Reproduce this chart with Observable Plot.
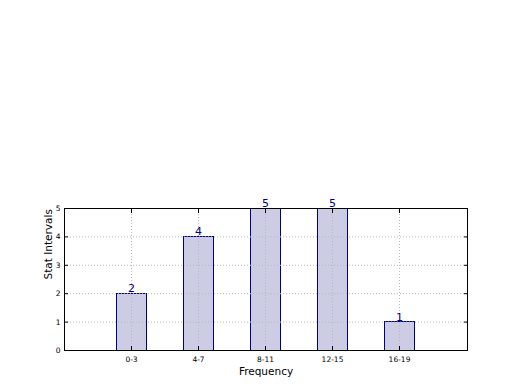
<!DOCTYPE html>
<html>
<head>
<meta charset="utf-8">
<script src="https://cdn.jsdelivr.net/npm/d3@7"></script>
<script src="https://cdn.jsdelivr.net/npm/@observablehq/plot@0.6"></script>
<style>
  html, body { margin: 0; padding: 0; background: #fff; }
  #chart svg { display: block; }
</style>
</head>
<body>
<div id="chart"></div>
<script>
const categories = ["0-3", "4-7", "8-11", "12-15", "16-19"];
const counts = [2, 4, 5, 5, 1];
const yTicks = [0, 1, 2, 3, 4, 5];

const data = categories.map((c, i) => ({cat: c, value: counts[i]}));

const chart = Plot.plot({
  width: 520,
  height: 390,
  marginLeft: 64,
  marginRight: 53,
  marginTop: 208,
  marginBottom: 40,
  style: {fontFamily: "DejaVu Sans, sans-serif", background: "#fff", overflow: "visible"},
  x: {type: "band", domain: categories, paddingInner: 0.55, paddingOuter: 0.775, align: 0.5},
  y: {domain: [0, 5]},
  marks: [
    Plot.barY(data, {x: "cat", y: "value", fill: "#cccce5", stroke: "#000080", strokeWidth: 1, shapeRendering: "crispEdges"}),
    Plot.gridX(categories, {stroke: "#b8b8b8", strokeOpacity: 1, strokeDasharray: "1,2", strokeWidth: 1}),
    Plot.gridY(yTicks, {stroke: "#b8b8b8", strokeOpacity: 1, strokeDasharray: "1,2", strokeWidth: 1}),
    Plot.frame({stroke: "black", strokeWidth: 1, shapeRendering: "crispEdges"}),
    Plot.axisX(categories, {tickSize: -4, tickPadding: 10, fontSize: 7.5, label: null, stroke: "black", fill: "black"}),
    Plot.axisX(categories, {anchor: "top", tickSize: -4, text: null, label: null}),
    Plot.axisY(yTicks, {tickSize: -4, tickPadding: 8, fontSize: 7.5, label: null, fill: "black"}),
    Plot.axisY(yTicks, {anchor: "right", tickSize: -4, text: null, label: null}),
    Plot.text(data, {x: "cat", y: "value", text: d => String(d.value), lineAnchor: "bottom", dy: -1.5, fill: "#000080", fontSize: 11}),
    Plot.text(["Frequency"], {frameAnchor: "bottom", dy: 21, lineAnchor: "middle", fontSize: 10.5, fill: "black"}),
    Plot.text(["Stat Intervals"], {frameAnchor: "left", dx: -16, rotate: -90, lineAnchor: "middle", fontSize: 10.5, fill: "black"})
  ]
});
document.getElementById("chart").appendChild(chart);
</script>
</body>
</html>
